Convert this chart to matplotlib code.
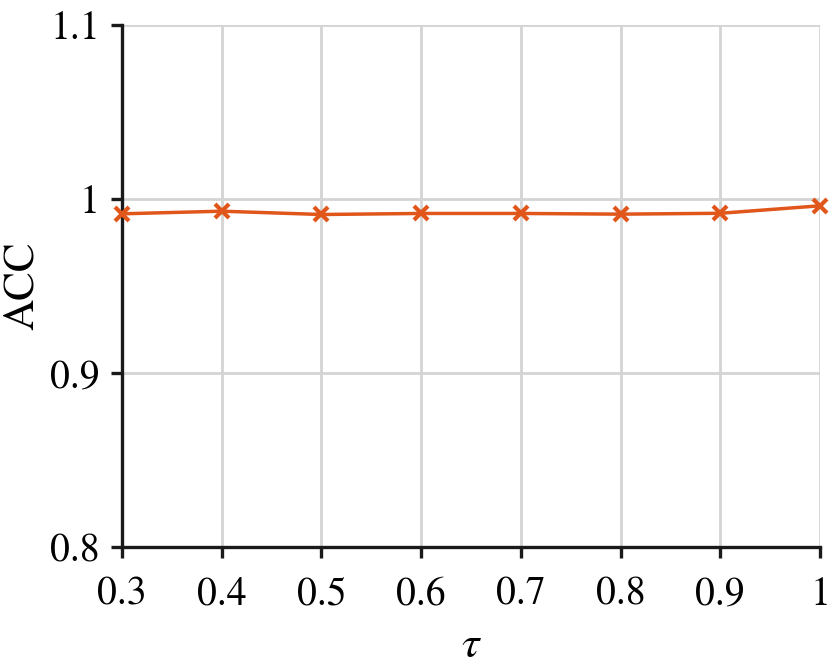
import matplotlib
matplotlib.use("Agg")
import matplotlib.pyplot as plt


# values
tau = [0.3, 0.4, 0.5, 0.6, 0.7, 0.8, 0.9, 1.0]
acc = [0.9915, 0.9930, 0.9911, 0.9917, 0.9917, 0.9913, 0.9918, 0.9961]
x_ticks = [0.3, 0.4, 0.5, 0.6, 0.7, 0.8, 0.9, 1.0]
x_labels = ["0.3", "0.4", "0.5", "0.6", "0.7", "0.8", "0.9", "1"]
y_ticks = [0.8, 0.9, 1.0, 1.1]
y_labels = ["0.8", "0.9", "1", "1.1"]

plt.rcParams["font.family"] = ["STIXGeneral", "Liberation Serif", "DejaVu Serif"]
plt.rcParams["mathtext.fontset"] = "stix"

fig = plt.figure(figsize=(8.31, 6.65), dpi=100)
ax = fig.add_axes([0.1468, 0.1774, 0.84, 0.785])

ax.plot(tau, acc, color="#E0561B", linewidth=2.5, marker="x",
        markersize=10, markeredgewidth=3, clip_on=False, zorder=3)

ax.set_xlim(0.3, 1.0)
ax.set_ylim(0.8, 1.1)
ax.set_xticks(x_ticks)
ax.set_xticklabels(x_labels)
ax.set_yticks(y_ticks)
ax.set_yticklabels(y_labels)

ax.grid(True, color="#d4d4d4", linewidth=2)
ax.set_axisbelow(True)
for side in ["top", "right"]:
    ax.spines[side].set_visible(False)
for side in ["left", "bottom"]:
    ax.spines[side].set_linewidth(2.4)
    ax.spines[side].set_color("#1a1a1a")

ax.tick_params(axis="both", direction="out", length=8, width=2.4,
               labelsize=28.5, color="#1a1a1a")
ax.tick_params(axis="x", pad=13)
ax.tick_params(axis="y", pad=8)

ax.set_xlabel(r"$\tau$", fontsize=32)
ax.set_ylabel("ACC", fontsize=31)
ax.xaxis.set_label_coords(0.5, -0.155)
ax.yaxis.set_label_coords(-0.1146, 0.5)

fig.savefig("out.png", dpi=100)
